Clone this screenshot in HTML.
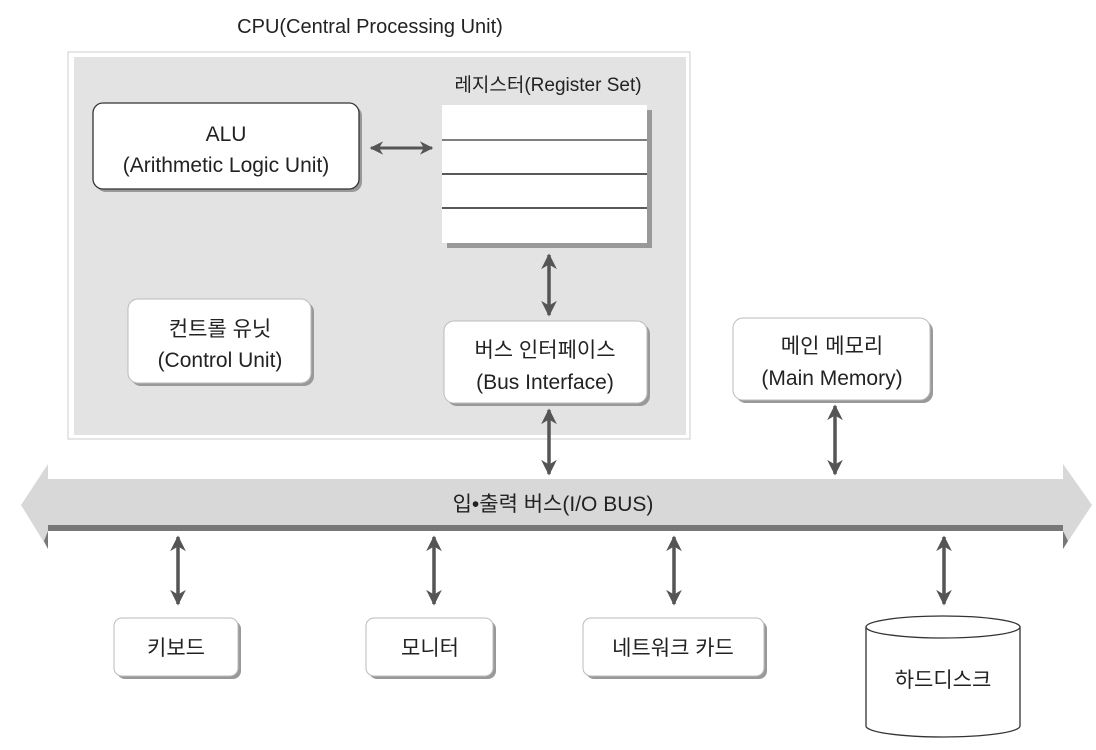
<!DOCTYPE html>
<html><head><meta charset="utf-8"><style>
body{margin:0;background:#fff;}
text{font-family:"Liberation Sans","Noto Sans CJK KR",sans-serif;fill:#222;}
</style></head><body>
<svg width="1096" height="745" viewBox="0 0 1096 745" xmlns="http://www.w3.org/2000/svg">
<defs>
<marker id="a" viewBox="0 0 10 10" refX="9" refY="5" markerWidth="4.5" markerHeight="4.5" orient="auto-start-reverse"><path d="M0,0 L10,5 L0,10 L3,5 Z" fill="#555"/></marker>
</defs>
<text x="370" y="33" font-size="20" text-anchor="middle">CPU(Central Processing Unit)</text>
<rect x="68" y="52" width="622" height="387" fill="#fff" stroke="#ccc"/>
<rect x="74" y="57" width="612" height="378" fill="#e3e3e3"/>
<text x="548" y="91" font-size="19" text-anchor="middle">레지스터(Register Set)</text>
<rect x="447" y="110" width="205" height="138" fill="#999"/>
<rect x="442" y="105" width="205" height="138" fill="#fff"/>
<line x1="442" y1="140" x2="647" y2="140" stroke="#555" stroke-width="1.5"/>
<line x1="442" y1="174" x2="647" y2="174" stroke="#222" stroke-width="1.5"/>
<line x1="442" y1="208" x2="647" y2="208" stroke="#222" stroke-width="1.5"/>
<rect x="96" y="106" width="266" height="86" rx="10" fill="#999"/>
<rect x="93" y="103" width="266" height="86" rx="10" fill="#fff" stroke="#333" stroke-width="1.3"/>
<text x="226" y="141" font-size="21" text-anchor="middle">ALU</text>
<text x="226" y="172" font-size="21" text-anchor="middle">(Arithmetic Logic Unit)</text>
<line x1="371" y1="148" x2="432" y2="148" stroke="#555" stroke-width="3" marker-start="url(#a)" marker-end="url(#a)"/>
<line x1="549" y1="255" x2="549" y2="315" stroke="#555" stroke-width="3.5" marker-start="url(#a)" marker-end="url(#a)"/>
<rect x="131" y="302" width="183" height="84" rx="10" fill="#999"/>
<rect x="128" y="299" width="183" height="84" rx="10" fill="#fff" stroke="#bbb"/>
<text x="220" y="336" font-size="21" text-anchor="middle">컨트롤 유닛</text>
<text x="220" y="367" font-size="21" text-anchor="middle">(Control Unit)</text>
<rect x="447" y="324" width="203" height="82" rx="10" fill="#999"/>
<rect x="444" y="321" width="203" height="82" rx="10" fill="#fff" stroke="#bbb"/>
<text x="545" y="357" font-size="21" text-anchor="middle">버스 인터페이스</text>
<text x="545" y="389" font-size="21" text-anchor="middle">(Bus Interface)</text>
<rect x="736" y="321" width="197" height="82" rx="10" fill="#999"/>
<rect x="733" y="318" width="197" height="82" rx="10" fill="#fff" stroke="#bbb"/>
<text x="832" y="353" font-size="21" text-anchor="middle">메인 메모리</text>
<text x="832" y="385" font-size="21" text-anchor="middle">(Main Memory)</text>
<line x1="549" y1="410" x2="549" y2="474" stroke="#555" stroke-width="3.5" marker-start="url(#a)" marker-end="url(#a)"/>
<line x1="835" y1="406" x2="835" y2="474" stroke="#555" stroke-width="3.5" marker-start="url(#a)" marker-end="url(#a)"/>
<polygon points="21,505 48,464 48,479 1063,479 1063,464 1092,505 1063,549 1063,531 48,531 48,549" fill="#d8d8d8"/>
<rect x="48" y="525" width="1015" height="6" fill="#777"/>
<polygon points="1063,531 1063,549 1068,541" fill="#777"/>
<polygon points="48,531 48,549 44,541" fill="#777"/>
<text x="553" y="511" font-size="21" text-anchor="middle">입•출력 버스(I/O  BUS)</text>
<line x1="178" y1="537" x2="178" y2="604" stroke="#555" stroke-width="3.5" marker-start="url(#a)" marker-end="url(#a)"/>
<line x1="434" y1="537" x2="434" y2="604" stroke="#555" stroke-width="3.5" marker-start="url(#a)" marker-end="url(#a)"/>
<line x1="674" y1="537" x2="674" y2="604" stroke="#555" stroke-width="3.5" marker-start="url(#a)" marker-end="url(#a)"/>
<line x1="944" y1="537" x2="944" y2="604" stroke="#555" stroke-width="3.5" marker-start="url(#a)" marker-end="url(#a)"/>
<rect x="117" y="621" width="124" height="58" rx="8" fill="#999"/>
<rect x="114" y="618" width="124" height="58" rx="8" fill="#fff" stroke="#bbb"/>
<text x="176" y="655" font-size="21" text-anchor="middle">키보드</text>
<rect x="369" y="621" width="127" height="58" rx="8" fill="#999"/>
<rect x="366" y="618" width="127" height="58" rx="8" fill="#fff" stroke="#bbb"/>
<text x="430" y="655" font-size="21" text-anchor="middle">모니터</text>
<rect x="586" y="621" width="181" height="58" rx="8" fill="#999"/>
<rect x="583" y="618" width="181" height="58" rx="8" fill="#fff" stroke="#bbb"/>
<text x="673" y="655" font-size="21" text-anchor="middle">네트워크 카드</text>
<path d="M866,627 L866,726 A77,11 0 0 0 1020,726 L1020,627" fill="#fff" stroke="#333" stroke-width="1.3"/>
<ellipse cx="943" cy="627" rx="77" ry="11" fill="#fff" stroke="#333" stroke-width="1.3"/>
<text x="943" y="687" font-size="21" text-anchor="middle">하드디스크</text>
</svg>
</body></html>
